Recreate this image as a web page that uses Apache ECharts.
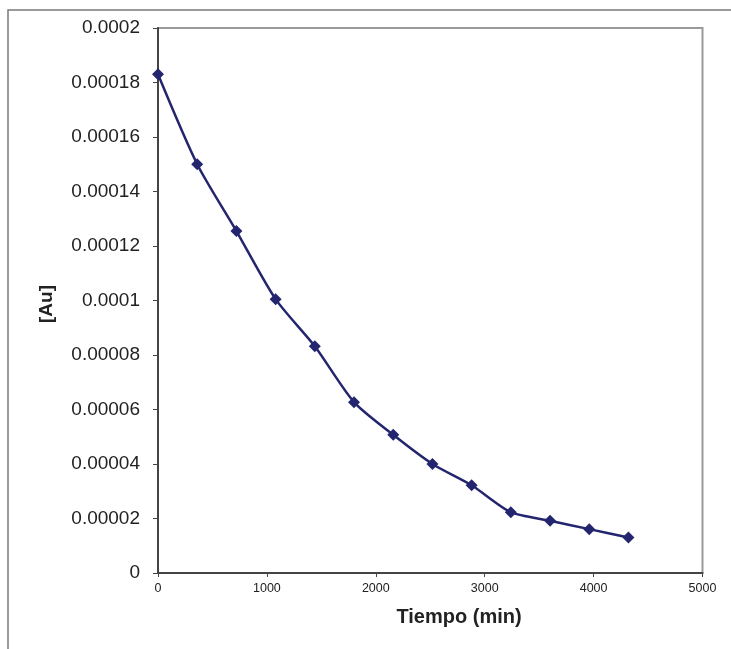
<!DOCTYPE html>
<html>
<head>
<meta charset="utf-8">
<script src="https://cdn.jsdelivr.net/npm/echarts@6/dist/echarts.min.js"></script>
<style>
html,body{margin:0;padding:0;background:#fff;}
#chart{width:731px;height:649px;}
</style>
</head>
<body>
<div id="chart"></div>
<script>
const tiempo = [0, 360, 720, 1080, 1440, 1800, 2160, 2520, 2880, 3240, 3600, 3960, 4320];
const au = [0.000183, 0.00015, 0.0001255, 0.0001005, 0.0000832, 0.0000627, 0.0000507, 0.00004, 0.0000322, 0.0000223, 0.0000192, 0.0000161, 0.000013];
const yTickLabels = ['0', '0.00002', '0.00004', '0.00006', '0.00008', '0.0001', '0.00012', '0.00014', '0.00016', '0.00018', '0.0002'];
const xTickLabels = ['0', '1000', '2000', '3000', '4000', '5000'];
const xTitle = 'Tiempo (min)';
const yTitle = '[Au]';

const chart = echarts.init(document.getElementById('chart'), null, {renderer: 'canvas'});
const font = 'Liberation Sans, Arial, sans-serif';
chart.setOption({
  animation: false,
  backgroundColor: '#fff',
  grid: {left: 158, top: 28, right: 28.5, bottom: 76, show: true, borderColor: '#9a9a9a', borderWidth: 2, backgroundColor: 'transparent'},
  graphic: [
    {type: 'rect', shape: {x: 8, y: 10, width: 740, height: 660}, style: {fill: 'none', stroke: '#7a7a7a', lineWidth: 1.5}, z: -1},
    {type: 'text', x: 459, y: 617, style: {text: xTitle, font: 'bold 20px ' + font, fill: '#222', align: 'center', verticalAlign: 'middle'}},
    {type: 'text', x: 47, y: 304, rotation: Math.PI / 2, style: {text: yTitle, font: 'bold 19px ' + font, fill: '#222', align: 'center', verticalAlign: 'middle'}}
  ],
  xAxis: {
    type: 'value', min: 0, max: 5000, interval: 1000,
    axisLine: {lineStyle: {color: '#444', width: 2}},
    axisTick: {show: true, inside: false, length: 4, lineStyle: {color: '#444', width: 1}},
    axisLabel: {fontFamily: font, fontSize: 12.5, color: '#222', margin: 9,
      formatter: v => xTickLabels[Math.round(v / 1000)]},
    splitLine: {show: false}
  },
  yAxis: {
    type: 'value', min: 0, max: 0.0002, interval: 0.00002,
    axisLine: {show: true, lineStyle: {color: '#444', width: 2}},
    axisTick: {show: true, inside: false, length: 5, lineStyle: {color: '#444', width: 1}},
    axisLabel: {fontFamily: font, fontSize: 19, color: '#222', margin: 18,
      formatter: v => yTickLabels[Math.round(v / 0.00002)]},
    splitLine: {show: false}
  },
  series: [{
    type: 'line',
    data: tiempo.map((t, i) => [t, au[i]]),
    smooth: 0.25,
    symbol: 'diamond',
    symbolSize: 12,
    itemStyle: {color: '#23266f'},
    lineStyle: {color: '#23266f', width: 2.5}
  }]
});
</script>
</body>
</html>
